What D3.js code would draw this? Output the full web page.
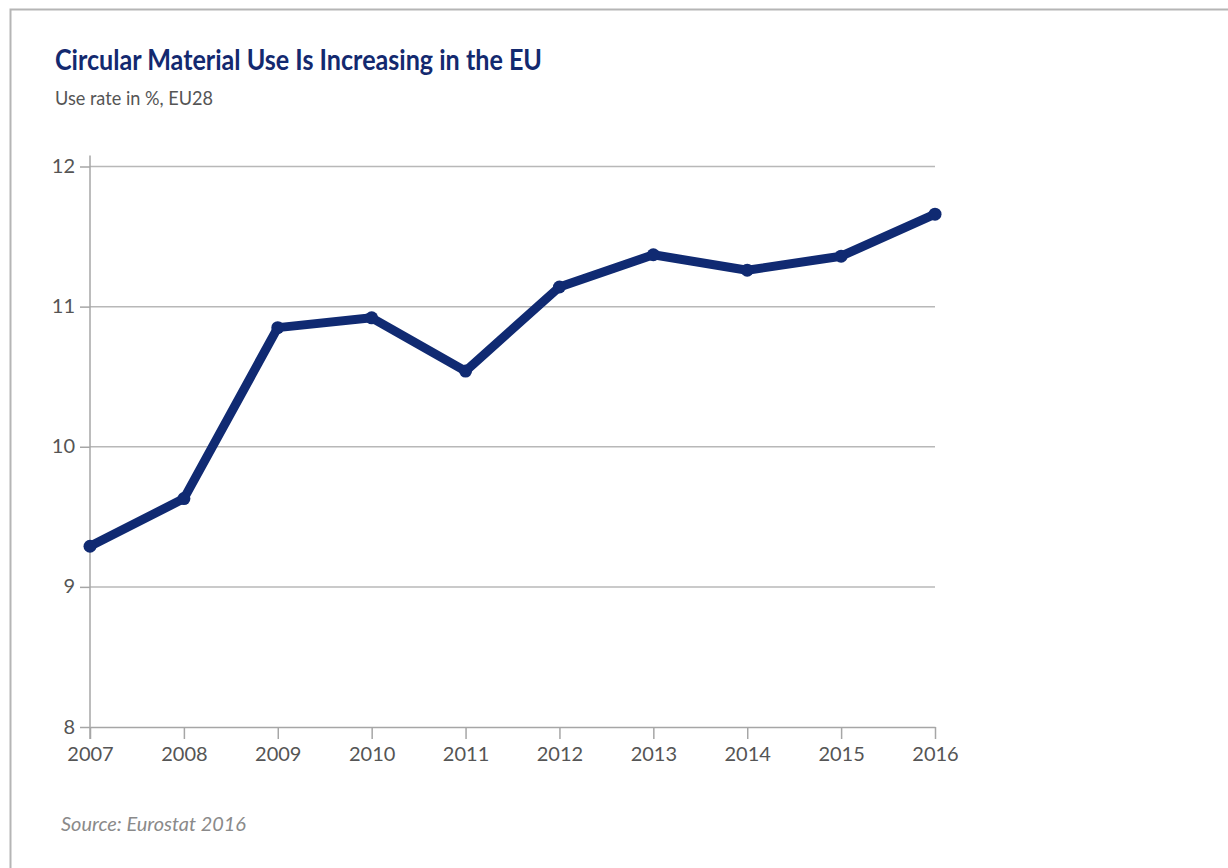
<!DOCTYPE html>
<html>
<head>
<meta charset="utf-8">
<script src="https://cdn.jsdelivr.net/npm/d3@7"></script>
<style>
  body { margin: 0; background: #fff; }
  svg { display: block; }
  .axis text { font-family: Lato, "Open Sans", sans-serif; font-size: 20px; fill: #555; }
  .axis path, .axis line { stroke: #a6a6a6; stroke-width: 1.5; }
</style>
</head>
<body>
<div id="chart"></div>
<script>
// chart data
var years = [2007, 2008, 2009, 2010, 2011, 2012, 2013, 2014, 2015, 2016];
var useRate = [9.29, 9.63, 10.85, 10.92, 10.54, 11.14, 11.37, 11.26, 11.36, 11.66];
var yTicks = [8, 9, 10, 11, 12];

var WIDTH = 1228,
    HEIGHT = 868,
    MARGINS = {top: 166.5, right: 293, bottom: 141, left: 90};

var svg = d3.select("#chart").append("svg")
  .attr("width", WIDTH)
  .attr("height", HEIGHT);

// frame (top and left edge only)
svg.append("path")
  .attr("d", "M10.5," + HEIGHT + "V9.5H" + WIDTH)
  .attr("fill", "none")
  .attr("stroke", "#b5b5b5")
  .attr("stroke-width", 2);

var xRange = d3.scaleLinear()
  .domain([d3.min(years), d3.max(years)])
  .range([MARGINS.left, WIDTH - MARGINS.right]);

var yRange = d3.scaleLinear()
  .domain([8, 12])
  .range([HEIGHT - MARGINS.bottom, MARGINS.top]);

// grid lines
svg.append("g")
  .selectAll("line")
  .data(yTicks.slice(1))
  .enter().append("line")
    .attr("x1", xRange.range()[0])
    .attr("x2", xRange.range()[1])
    .attr("y1", function(d) { return yRange(d); })
    .attr("y2", function(d) { return yRange(d); })
    .attr("stroke", "#b8b8b8")
    .attr("stroke-width", 1.5);

var xAxis = d3.axisBottom(xRange)
  .tickValues(years)
  .tickFormat(d3.format("d"))
  .tickSizeInner(12)
  .tickSizeOuter(0)
  .tickPadding(8);

var yAxis = d3.axisLeft(yRange)
  .tickValues(yTicks)
  .tickFormat(d3.format("d"))
  .tickSizeInner(10)
  .tickSizeOuter(0)
  .tickPadding(5);

svg.append("g")
  .attr("class", "x axis")
  .attr("transform", "translate(0," + yRange(8) + ")")
  .call(xAxis);

var yg = svg.append("g")
  .attr("class", "y axis")
  .attr("transform", "translate(" + MARGINS.left + ",0)")
  .call(yAxis);
yg.selectAll("text").attr("dy", "0.3em");
yg.select(".domain").remove();
yg.append("line")
  .attr("x1", 0).attr("x2", 0)
  .attr("y1", yRange(12) - 11)
  .attr("y2", yRange(8) + 12);

// line + markers
var lineFunc = d3.line()
  .x(function(d, i) { return xRange(years[i]); })
  .y(function(d) { return yRange(d); });

svg.append("path")
  .attr("d", lineFunc(useRate))
  .attr("stroke", "#102a72")
  .attr("stroke-width", 9)
  .attr("stroke-linejoin", "round")
  .attr("fill", "none");

svg.selectAll(".dot")
  .data(useRate)
  .enter().append("circle")
    .attr("class", "dot")
    .attr("r", 6.5)
    .attr("cx", function(d, i) { return xRange(years[i]); })
    .attr("cy", function(d) { return yRange(d); })
    .style("fill", "#102a72");

// titles
svg.append("text")
  .attr("x", 55)
  .attr("y", 70)
  .attr("textLength", 487)
  .attr("lengthAdjust", "spacingAndGlyphs")
  .style("font-family", "Lato, 'Open Sans', sans-serif")
  .style("font-weight", 700)
  .style("font-size", "29px")
  .style("fill", "#13296f")
  .text("Circular Material Use Is Increasing in the EU");

svg.append("text")
  .attr("x", 55)
  .attr("y", 105)
  .attr("textLength", 158)
  .attr("lengthAdjust", "spacingAndGlyphs")
  .style("font-family", "Lato, 'Open Sans', sans-serif")
  .style("font-size", "19px")
  .style("fill", "#555")
  .text("Use rate in %, EU28");

svg.append("text")
  .attr("x", 61)
  .attr("y", 831)
  .attr("textLength", 185)
  .attr("lengthAdjust", "spacingAndGlyphs")
  .style("font-family", "Lato, 'Open Sans', sans-serif")
  .style("font-style", "italic")
  .style("font-size", "19px")
  .style("fill", "#8a8a8a")
  .text("Source: Eurostat 2016");
</script>
</body>
</html>
